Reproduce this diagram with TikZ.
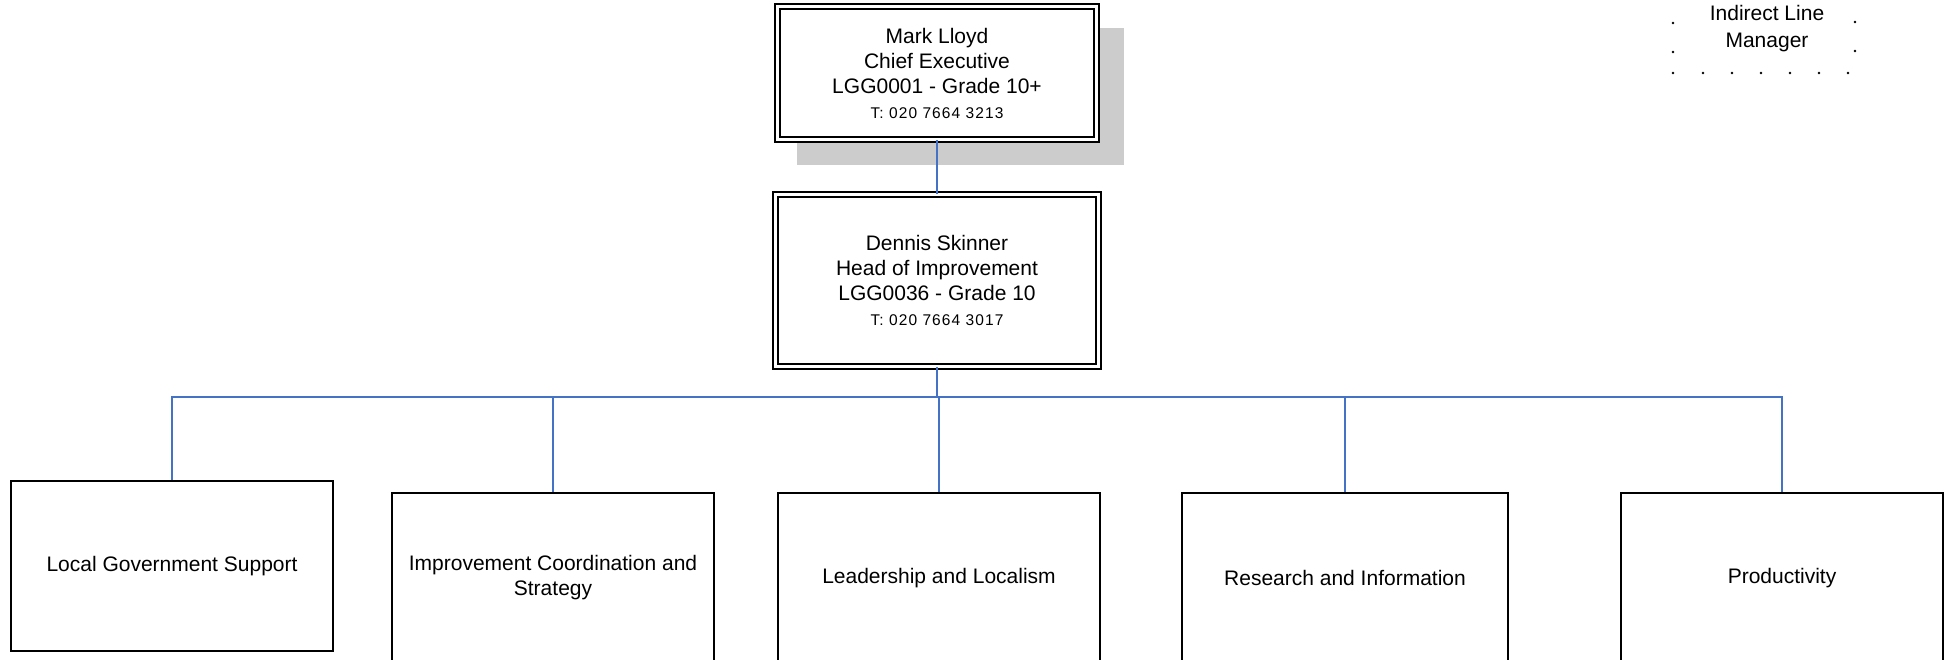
\documentclass[tikz,border=0pt]{standalone}
\usepackage{fontspec}
\setmainfont{Liberation Sans}
\newfontfamily\phonefam[LetterSpace=7]{Liberation Sans}
\usetikzlibrary{shadows}
\definecolor{connblue}{RGB}{68,114,196}
\definecolor{shadowgray}{RGB}{204,204,204}
\tikzset{
  doublebox/.style={draw=black, line width=1.5pt, double=white, double distance=3.5pt, fill=white,
    align=center, inner sep=0pt, font=\fontsize{21}{25}\selectfont},
  unitbox/.style={draw=black, line width=2pt, fill=white, align=center, inner sep=0pt,
    minimum width=322pt, minimum height=170pt, font=\fontsize{21}{25}\selectfont},
  conn/.style={draw=connblue, line width=1.8pt},
  legdot/.style={fill=black}
}
\newcommand{\phoneline}[1]{{\phonefam\fontsize{15.5}{18}\selectfont #1}}
\begin{document}
\begin{tikzpicture}[x=1pt, y=-1pt]
\useasboundingbox (0,0) rectangle (1946,660);
\clip (0,0) rectangle (1946,660);

% top box with shadow
\node[doublebox, minimum width=319pt, minimum height=133pt,
  general shadow={shadow scale=1.025, shadow xshift=23pt, shadow yshift=-23pt, fill=shadowgray}] (ceo) at (937,73)
  {Mark Lloyd\\Chief Executive\\LGG0001 - Grade 10+\\\phoneline{T: 020 7664 3213}};

% second box
\node[doublebox, minimum width=323pt, minimum height=172pt] (head) at (937,280.5)
  {Dennis Skinner\\Head of Improvement\\LGG0036 - Grade 10\\\phoneline{T: 020 7664 3017}};

% units
\node[unitbox] (u1) at (172,566) {Local Government Support};
\node[unitbox] (u2) at (553,578) {Improvement Coordination and\\Strategy};
\node[unitbox] (u3) at (939,578) {Leadership and Localism};
\node[unitbox, minimum width=326pt] (u4) at (1345,578) {Research and Information};
\node[unitbox] (u5) at (1782,578) {Productivity};

% connectors
\coordinate (bus) at (937,397);
\draw[conn] (ceo.south) -- (head.north);
\draw[conn] (head.south) -- (bus);
\draw[conn] (bus) -| (u1.north);
\draw[conn] (bus) -| (u2.north);
\draw[conn] (bus) -| (u3.north);
\draw[conn] (bus) -| (u4.north);
\draw[conn] (bus) -| (u5.north);

% legend
\node[align=center, inner sep=0pt, font=\fontsize{21}{27}\selectfont] (legend) at (1767,28.5) {Indirect Line\\Manager};
\foreach \yy in {23,52,73} \fill[legdot] (1673,\yy) circle (1.3pt);
\foreach \yy in {22,51} \fill[legdot] (1855,\yy) circle (1.3pt);
\foreach \xx in {1703,1732,1761,1790,1819,1848} \fill[legdot] (\xx,73) circle (1.3pt);
\end{tikzpicture}
\end{document}
